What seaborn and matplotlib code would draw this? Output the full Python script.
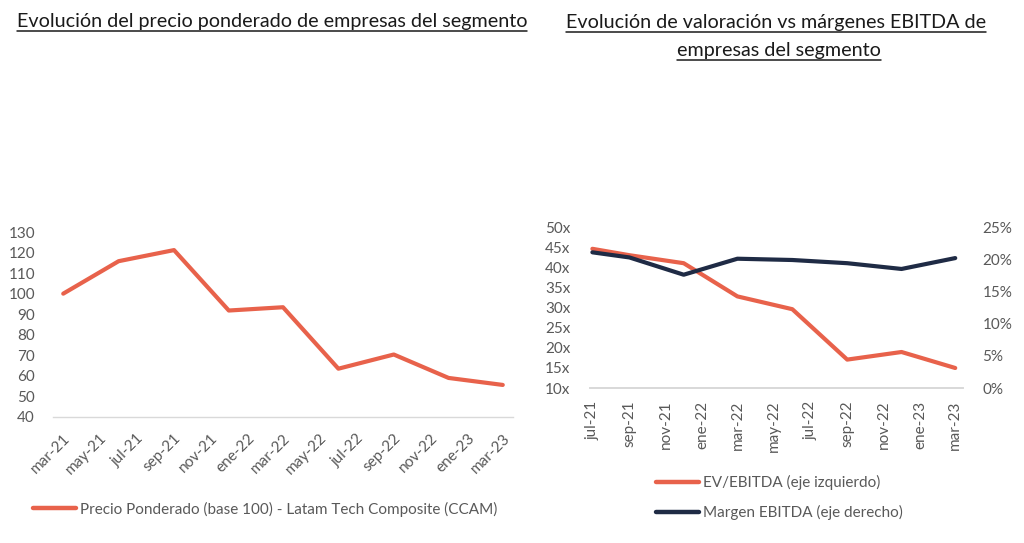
import matplotlib
matplotlib.use("Agg")
import matplotlib.pyplot as plt
import matplotlib.ticker as mticker
from matplotlib.lines import Line2D
import seaborn as sns
import pandas as pd

# ---------------- data ----------------
price_dates = ["2021-03-01", "2021-06-01", "2021-09-01", "2021-12-01", "2022-03-01",
               "2022-06-01", "2022-09-01", "2022-12-01", "2023-03-01"]
price_values = [100.0, 115.8, 121.2, 91.8, 93.4, 63.5, 70.4, 59.0, 55.6]
price_label = "Precio Ponderado (base 100) - Latam Tech Composite (CCAM)"
left_tick_labels = ["mar-21", "may-21", "jul-21", "sep-21", "nov-21", "ene-22", "mar-22",
                    "may-22", "jul-22", "sep-22", "nov-22", "ene-23", "mar-23"]

val_dates = ["2021-07-01", "2021-09-01", "2021-12-01", "2022-03-01",
             "2022-06-01", "2022-09-01", "2022-12-01", "2023-03-01"]
ev_ebitda = [44.8, 43.2, 41.2, 32.9, 29.7, 17.1, 19.0, 15.0]
margen_ebitda = [0.212, 0.204, 0.177, 0.202, 0.200, 0.195, 0.186, 0.203]
ev_label = "EV/EBITDA (eje izquierdo)"
margen_label = "Margen EBITDA (eje derecho)"
right_tick_labels = ["jul-21", "sep-21", "nov-21", "ene-22", "mar-22", "may-22",
                     "jul-22", "sep-22", "nov-22", "ene-23", "mar-23"]

title_left = "Evolución del precio ponderado de empresas del segmento"
title_right_1 = "Evolución de valoración vs márgenes EBITDA de"
title_right_2 = "empresas del segmento"

# ---------------- style ----------------
ORANGE = "#E8624B"
NAVY = "#1F2B45"
GRAY = "#595959"
LIGHT = "#D9D9D9"

sns.set_theme(style="white")
plt.rcParams["font.family"] = ["Lato", "DejaVu Sans"]

W, H = 1024, 543
fig = plt.figure(figsize=(W / 100, H / 100), dpi=100)
fig.patch.set_facecolor("white")


def fx(px):
    return px / W


def fy(py):
    return 1 - py / H


df_price = pd.DataFrame({"fecha": pd.to_datetime(price_dates), "valor": price_values})
df_val = pd.DataFrame({"fecha": pd.to_datetime(val_dates), "ev": ev_ebitda,
                       "margen": margen_ebitda})

# ---------------- left chart ----------------
axL = fig.add_axes([fx(53), fy(417), fx(513 - 53), (417 - 232) / H])
sns.lineplot(data=df_price, x="fecha", y="valor", ax=axL, color=ORANGE,
             linewidth=3.0, legend=False)
axL.set_ylim(40, 130)
axL.set_yticks(range(40, 131, 10))
ticksL = pd.date_range("2021-03-01", "2023-03-01", freq="2MS")
axL.set_xticks(ticksL)
axL.set_xticklabels(left_tick_labels, rotation=45, ha="right", rotation_mode="anchor")
axL.set_xlim(pd.Timestamp("2021-03-01") - pd.Timedelta(days=17),
             pd.Timestamp("2023-03-01") + pd.Timedelta(days=17))
axL.set_xlabel("")
axL.set_ylabel("")
for s in ["top", "right", "left"]:
    axL.spines[s].set_visible(False)
axL.spines["bottom"].set_color(LIGHT)
axL.spines["bottom"].set_linewidth(1)
axL.tick_params(axis="both", length=0, colors=GRAY, labelsize=11)
axL.tick_params(axis="y", pad=13)
axL.tick_params(axis="x", pad=10)
axL.grid(False)
axL.set_facecolor("none")

# ---------------- right chart ----------------
axR = fig.add_axes([fx(590), fy(388), fx(963 - 590), (388 - 228) / H])
sns.lineplot(data=df_val, x="fecha", y="ev", ax=axR, color=ORANGE,
             linewidth=3.0, legend=False)
axR2 = axR.twinx()
sns.lineplot(data=df_val, x="fecha", y="margen", ax=axR2, color=NAVY,
             linewidth=3.0, legend=False)
axR.set_ylim(10, 50)
axR.set_yticks(range(10, 51, 5))
axR.yaxis.set_major_formatter(mticker.FuncFormatter(lambda v, p: f"{v:.0f}x"))
axR2.set_ylim(0, 0.25)
axR2.set_yticks([0, 0.05, 0.10, 0.15, 0.20, 0.25])
axR2.yaxis.set_major_formatter(mticker.FuncFormatter(lambda v, p: f"{v * 100:.0f}%"))
ticksR = pd.date_range("2021-07-01", "2023-03-01", freq="2MS")
axR.set_xticks(ticksR)
axR.set_xticklabels(right_tick_labels, rotation=90, ha="center", va="top")
axR.set_xlim(pd.Timestamp("2021-07-01") - pd.Timedelta(days=4),
             pd.Timestamp("2023-03-01") + pd.Timedelta(days=13))
for a in (axR, axR2):
    a.set_xlabel("")
    a.set_ylabel("")
    for s in ["top", "right", "left"]:
        a.spines[s].set_visible(False)
    a.spines["bottom"].set_color(LIGHT)
    a.tick_params(axis="both", length=0, colors=GRAY, labelsize=11)
    a.grid(False)
    a.set_facecolor("none")
axR.tick_params(axis="y", pad=14)
axR2.tick_params(axis="y", pad=14)
axR.tick_params(axis="x", pad=9)

# ---------------- titles (underlined) ----------------
renderer = fig.canvas.get_renderer()


def underlined(x_px, y_px, text):
    t = fig.text(fx(x_px), fy(y_px), text, ha="center", va="baseline",
                 fontsize=14.2, color="#1a1a1a")
    bb = t.get_window_extent(renderer=renderer)
    yline = fy(y_px + 4)
    fig.add_artist(Line2D([bb.x0 / W, bb.x1 / W], [yline, yline],
                          transform=fig.transFigure, color="#1a1a1a", linewidth=1.1))
    return t


underlined(272, 27, title_left)
underlined(776, 28, title_right_1)
underlined(779, 56, title_right_2)

# ---------------- legends ----------------
hL = [Line2D([0], [0], color=ORANGE, linewidth=3.2)]
legL = fig.legend(hL, [price_label], loc="center left",
                  bbox_to_anchor=(fx(33), fy(509)), frameon=False,
                  fontsize=11, handlelength=2.8, handletextpad=0.3,
                  borderpad=0, borderaxespad=0)
for t in legL.get_texts():
    t.set_color(GRAY)

hR = [Line2D([0], [0], color=ORANGE, linewidth=3.2),
      Line2D([0], [0], color=NAVY, linewidth=3.2)]
legR = fig.legend(hR, [ev_label, margen_label], loc="center left",
                  bbox_to_anchor=(fx(656), fy(497.5)), frameon=False,
                  fontsize=11, handlelength=2.8, handletextpad=0.3,
                  borderpad=0, borderaxespad=0, labelspacing=1.0)
for t in legR.get_texts():
    t.set_color(GRAY)

fig.savefig("out.png", dpi=100, facecolor="white")
